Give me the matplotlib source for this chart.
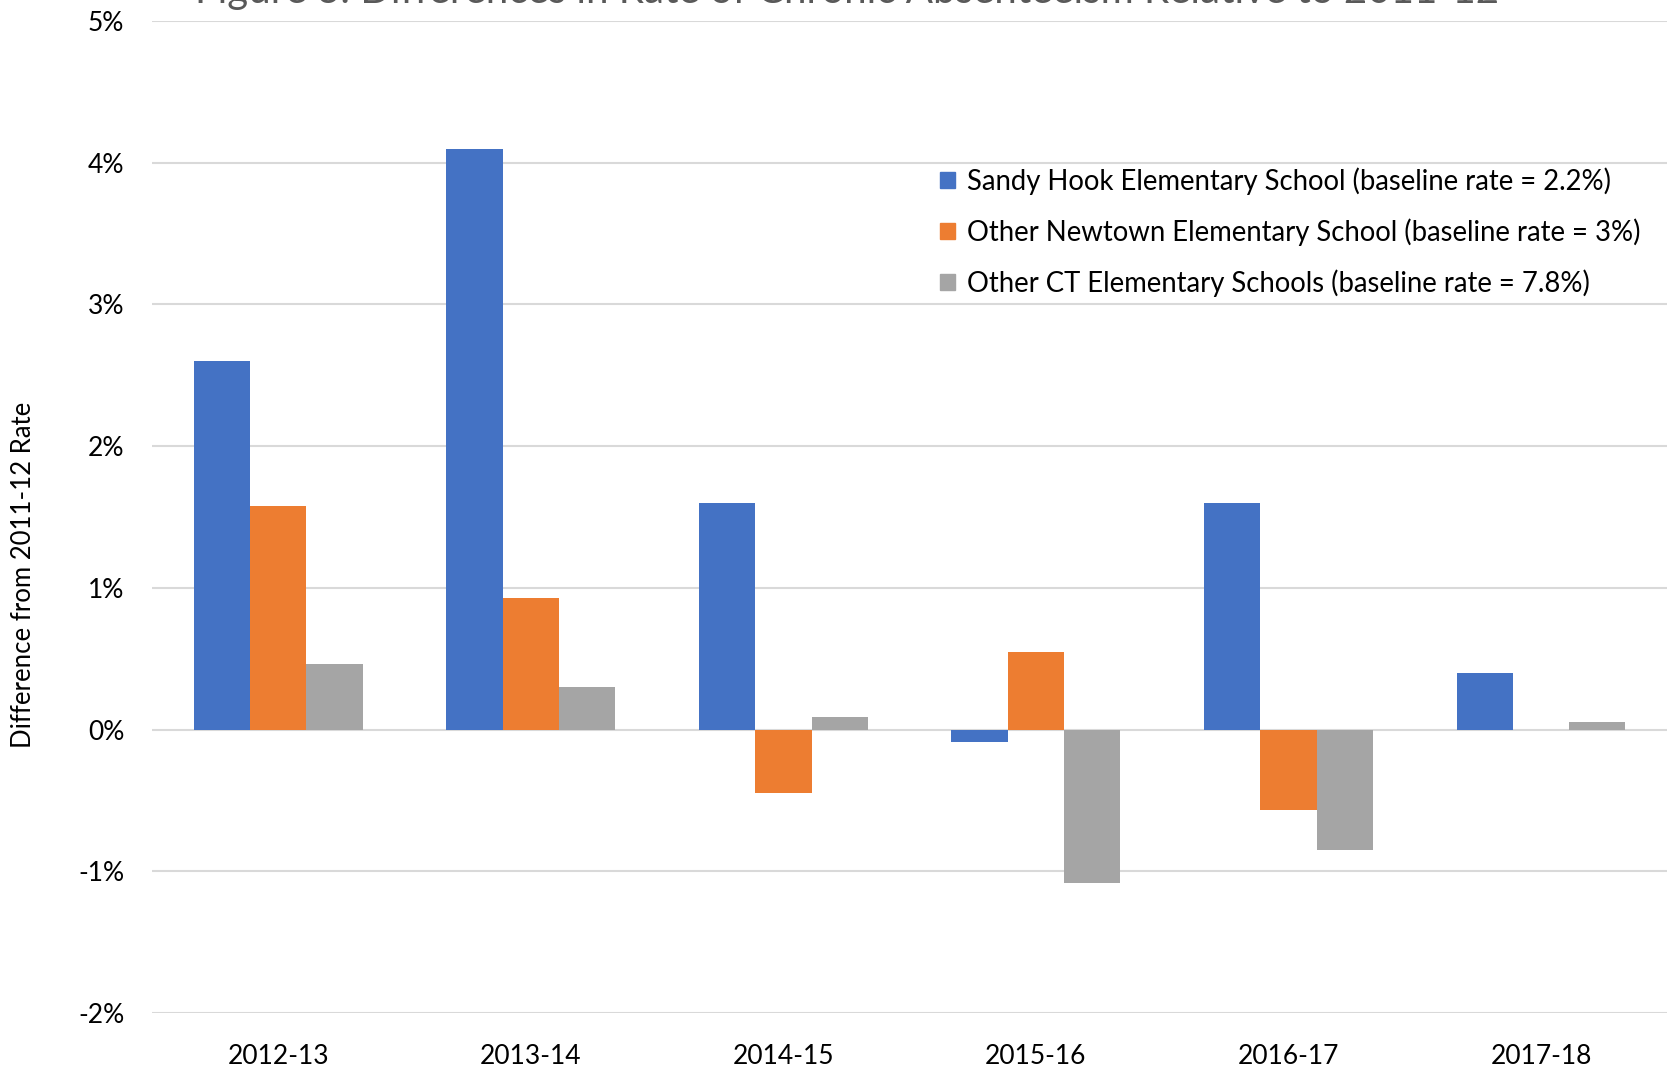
import numpy as np
import matplotlib
matplotlib.use('Agg')
import matplotlib.pyplot as plt
from matplotlib.patches import Patch
from matplotlib.ticker import FuncFormatter

plt.rcParams['font.family'] = ['Lato', 'DejaVu Sans']

years = ['2012-13', '2013-14', '2014-15', '2015-16', '2016-17', '2017-18']
sandy_hook = [2.60, 4.10, 1.60, -0.09, 1.60, 0.40]
other_newtown = [1.58, 0.93, -0.45, 0.55, -0.57, 0.0]
other_ct = [0.46, 0.30, 0.09, -1.08, -0.85, 0.05]
labels = ['Sandy Hook Elementary School (baseline rate = 2.2%)',
          'Other Newtown Elementary School (baseline rate = 3%)',
          'Other CT Elementary Schools (baseline rate = 7.8%)']
colors = ['#4472C4', '#ED7D31', '#A5A5A5']
title = 'Figure 3: Differences in Rate of Chronic Absenteeism Relative to 2011-12'

fig = plt.figure(figsize=(16.67, 10.70), dpi=100)
ax = fig.add_axes([0.0912, 0.0533, 0.912, 0.927])

x = np.arange(len(years))
w = 0.223
for k, (vals, c) in enumerate(zip([sandy_hook, other_newtown, other_ct], colors)):
    ax.bar(x + (k - 1) * w, vals, width=w, color=c, zorder=3)

ax.set_xlim(-0.5, len(years) - 0.48)
ax.set_ylim(-2, 5)
ax.set_yticks(range(-2, 6))
ax.yaxis.set_major_formatter(FuncFormatter(lambda v, p: f'{v:.0f}%'))
ax.set_xticks(x)
ax.set_xticklabels(years)
ax.grid(axis='y', color='#d9d9d9', lw=1.5, zorder=0)
for s in ax.spines.values():
    s.set_visible(False)
ax.tick_params(axis='both', length=0, labelsize=19, colors='#000000')
ax.tick_params(axis='x', pad=22)
ax.tick_params(axis='y', pad=20)

fig.text(0.014, 0.463, 'Difference from 2011-12 Rate', rotation=90,
         ha='center', va='center', fontsize=18.5)
# title is clipped at the top edge, as in the original
fig.text(0.117, 0.997, title, ha='left', va='baseline', fontsize=29, color='#595959')

handles = [Patch(color=c) for c in colors]
ax.legend(handles, labels, loc='upper left', bbox_to_anchor=(0.549, 0.867),
          bbox_transform=fig.transFigure, frameon=False, fontsize=19.8,
          handlelength=0.55, handleheight=0.55, handletextpad=0.45, labelspacing=0.85)

fig.savefig('out.png', dpi=100)
